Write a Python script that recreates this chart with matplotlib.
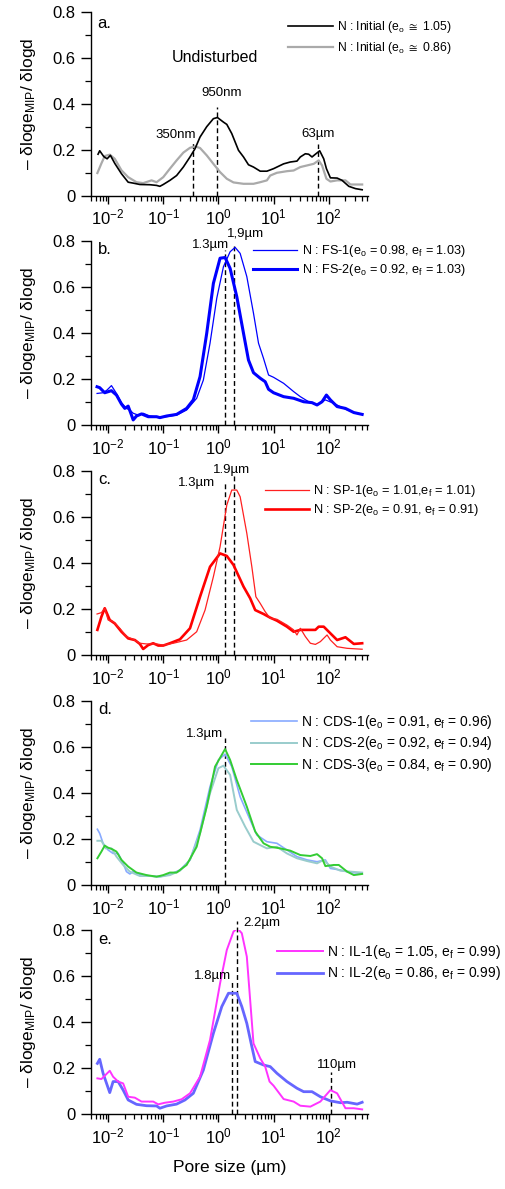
import numpy as np
import matplotlib
matplotlib.use("Agg")
import matplotlib.pyplot as plt
from matplotlib.ticker import LogLocator, MultipleLocator, FuncFormatter

plt.rcParams['font.family'] = ['Liberation Sans', 'DejaVu Sans']
plt.rcParams['mathtext.fontset'] = 'custom'
plt.rcParams['mathtext.rm'] = 'Liberation Sans'
plt.rcParams['mathtext.it'] = 'Liberation Sans:italic'
plt.rcParams['mathtext.bf'] = 'Liberation Sans:bold'
plt.rcParams['mathtext.fallback'] = 'stixsans'

# ---------------- data (log10 of pore size in um, and -dloge/dlogd) ----------------
# panel a
logd_init_105 = [-2.182,-2.152,-2.079,-2.018,-1.958,-1.879,-1.758,-1.636,-1.545,-1.424,-1.242,-1.121,-1.061,-1.000,
                 -0.879,-0.758,-0.636,-0.515,-0.424,-0.333,-0.212,-0.091,-0.018,0.091,0.152,0.242,0.364,0.455,0.545,
                 0.636,0.758,0.879,1.000,1.182,1.303,1.424,1.485,1.576,1.636,1.697,1.758,1.836,1.909,1.958,2.030,
                 2.152,2.242,2.364,2.485,2.606]
val_init_105 = [0.18,0.195,0.17,0.16,0.175,0.14,0.095,0.058,0.054,0.048,0.047,0.044,0.04,0.048,0.066,0.087,0.124,
                0.168,0.204,0.255,0.30,0.335,0.34,0.32,0.31,0.27,0.197,0.168,0.134,0.124,0.106,0.106,0.117,0.138,
                0.146,0.15,0.168,0.182,0.18,0.168,0.18,0.195,0.16,0.117,0.077,0.076,0.066,0.04,0.03,0.025]
logd_init_086 = [-2.194,-2.121,-2.061,-1.970,-1.879,-1.758,-1.636,-1.485,-1.364,-1.212,-1.121,-1.000,-0.879,-0.758,
                 -0.636,-0.515,-0.424,-0.333,-0.212,-0.091,0.030,0.152,0.273,0.455,0.636,0.758,0.879,0.939,1.061,
                 1.242,1.364,1.485,1.606,1.727,1.818,1.879,1.958,2.030,2.152,2.303,2.394,2.606]
val_init_086 = [0.098,0.14,0.172,0.178,0.16,0.11,0.08,0.058,0.054,0.066,0.058,0.08,0.117,0.153,0.187,0.208,0.214,
                0.207,0.175,0.138,0.102,0.073,0.057,0.051,0.051,0.058,0.066,0.087,0.099,0.106,0.109,0.124,0.131,
                0.138,0.153,0.131,0.073,0.061,0.066,0.066,0.048,0.048]
# panel b
logd_fs1 = [-2.200,-2.091,-2.018,-1.939,-1.848,-1.758,-1.667,-1.606,-1.545,-1.455,-1.364,-1.242,-1.061,-0.939,-0.758,
            -0.576,-0.394,-0.273,-0.152,-0.030,0.091,0.212,0.303,0.394,0.515,0.636,0.727,0.818,0.909,1.000,1.182,
            1.364,1.485,1.636,1.788,1.939,2.091,2.273,2.455,2.606]
val_fs1 = [0.137,0.14,0.152,0.171,0.137,0.097,0.072,0.065,0.051,0.043,0.051,0.039,0.032,0.036,0.043,0.065,0.116,
           0.195,0.355,0.55,0.687,0.752,0.771,0.745,0.644,0.485,0.355,0.289,0.217,0.207,0.181,0.145,0.123,0.101,
           0.087,0.109,0.094,0.072,0.054,0.046]
logd_fs2 = [-2.200,-2.152,-2.061,-1.939,-1.848,-1.758,-1.697,-1.636,-1.588,-1.545,-1.485,-1.394,-1.273,-1.121,-1.061,
            -0.939,-0.758,-0.576,-0.455,-0.333,-0.212,-0.091,0.030,0.121,0.212,0.333,0.455,0.545,0.636,0.758,0.848,
            0.909,1.000,1.182,1.364,1.545,1.697,1.788,1.879,1.958,2.030,2.152,2.303,2.455,2.606]
val_fs2 = [0.166,0.162,0.14,0.149,0.13,0.091,0.072,0.082,0.051,0.022,0.039,0.048,0.036,0.036,0.032,0.039,0.046,
           0.072,0.109,0.21,0.398,0.615,0.724,0.727,0.68,0.557,0.398,0.282,0.227,0.203,0.188,0.155,0.14,0.123,
           0.116,0.101,0.097,0.087,0.101,0.13,0.109,0.08,0.072,0.054,0.046]
# panel c
logd_sp1 = [-2.200,-2.121,-2.061,-2.000,-1.909,-1.788,-1.667,-1.545,-1.424,-1.303,-1.121,-1.000,-0.818,-0.576,-0.394,
            -0.242,-0.091,0.030,0.152,0.242,0.333,0.394,0.515,0.606,0.679,0.758,0.848,0.939,1.061,1.242,1.364,
            1.424,1.485,1.576,1.667,1.758,1.848,1.970,2.030,2.152,2.333,2.606]
val_sp1 = [0.178,0.184,0.203,0.152,0.145,0.116,0.08,0.068,0.051,0.048,0.048,0.043,0.051,0.065,0.101,0.195,0.34,
           0.47,0.651,0.716,0.716,0.687,0.528,0.383,0.253,0.224,0.188,0.159,0.155,0.13,0.109,0.087,0.116,0.08,
           0.051,0.046,0.058,0.087,0.065,0.036,0.029,0.025]
logd_sp2 = [-2.194,-2.121,-2.061,-1.970,-1.879,-1.758,-1.636,-1.515,-1.424,-1.364,-1.273,-1.182,-1.091,-1.000,-0.879,
            -0.697,-0.515,-0.333,-0.152,0.030,0.152,0.273,0.455,0.576,0.667,0.818,0.939,1.061,1.242,1.364,1.485,
            1.667,1.758,1.818,1.909,2.030,2.152,2.303,2.455,2.606]
val_sp2 = [0.109,0.166,0.203,0.152,0.137,0.101,0.072,0.065,0.048,0.026,0.043,0.051,0.041,0.041,0.051,0.068,0.116,
           0.253,0.383,0.441,0.43,0.391,0.297,0.246,0.195,0.178,0.162,0.149,0.123,0.101,0.109,0.109,0.109,0.123,
           0.123,0.094,0.065,0.077,0.048,0.051]
# panel d
logd_cds1 = [-2.194,-2.152,-2.091,-2.000,-1.909,-1.818,-1.727,-1.667,-1.606,-1.545,-1.424,-1.242,-1.061,-0.879,-0.697,
             -0.515,-0.333,-0.152,0.000,0.121,0.242,0.394,0.576,0.697,0.879,1.061,1.242,1.424,1.606,1.788,1.939,
             2.030,2.212,2.394,2.606]
val_cds1 = [0.242,0.224,0.181,0.152,0.137,0.137,0.094,0.058,0.048,0.058,0.046,0.039,0.036,0.046,0.065,0.109,0.239,
            0.427,0.543,0.568,0.514,0.383,0.282,0.217,0.188,0.181,0.152,0.123,0.109,0.101,0.109,0.072,0.065,0.054,
            0.051]
logd_cds2 = [-2.194,-2.121,-2.042,-1.939,-1.848,-1.727,-1.606,-1.424,-1.242,-1.061,-0.879,-0.697,-0.515,-0.333,-0.152,
             0.000,0.091,0.212,0.333,0.485,0.636,0.818,0.879,1.061,1.242,1.424,1.606,1.788,1.909,2.030,2.212,
             2.394,2.606]
val_cds2 = [0.192,0.192,0.159,0.159,0.123,0.087,0.058,0.039,0.039,0.036,0.043,0.062,0.109,0.224,0.398,0.507,0.518,
            0.478,0.326,0.253,0.188,0.166,0.159,0.166,0.137,0.116,0.104,0.094,0.109,0.08,0.062,0.058,0.054]
logd_cds3 = [-2.194,-2.121,-2.061,-2.000,-1.921,-1.848,-1.758,-1.636,-1.485,-1.303,-1.121,-1.000,-0.879,-0.758,-0.576,
             -0.394,-0.212,-0.061,0.121,0.212,0.333,0.515,0.667,0.818,0.939,1.121,1.303,1.485,1.667,1.788,1.879,
             1.939,2.091,2.182,2.333,2.455,2.606]
val_cds3 = [0.116,0.145,0.171,0.162,0.155,0.145,0.109,0.08,0.054,0.043,0.036,0.043,0.054,0.054,0.087,0.166,0.34,
            0.514,0.59,0.543,0.456,0.34,0.232,0.181,0.166,0.159,0.149,0.13,0.126,0.134,0.116,0.082,0.087,0.087,
            0.058,0.043,0.048]
# panel e
logd_il1 = [-2.194,-2.121,-1.970,-1.909,-1.818,-1.727,-1.636,-1.515,-1.394,-1.273,-1.182,-1.091,-0.970,-0.818,-0.667,
            -0.515,-0.333,-0.152,0.030,0.152,0.273,0.345,0.424,0.515,0.636,0.758,0.848,0.927,1.000,1.182,1.364,
            1.485,1.667,1.848,2.030,2.152,2.303,2.455,2.606]
val_il1 = [0.155,0.152,0.188,0.162,0.141,0.133,0.075,0.071,0.054,0.054,0.054,0.042,0.049,0.054,0.064,0.09,0.162,
           0.322,0.568,0.713,0.793,0.807,0.786,0.684,0.307,0.242,0.206,0.141,0.123,0.065,0.054,0.036,0.032,0.054,
           0.104,0.09,0.025,0.025,0.02]
logd_il2 = [-2.194,-2.152,-2.091,-1.970,-1.909,-1.818,-1.727,-1.636,-1.485,-1.303,-1.121,-1.061,-0.939,-0.758,-0.606,
            -0.455,-0.273,-0.091,0.061,0.182,0.333,0.424,0.515,0.606,0.667,0.818,0.939,1.061,1.242,1.424,1.545,
            1.697,1.848,2.030,2.212,2.333,2.515,2.606]
val_il2 = [0.22,0.238,0.177,0.093,0.141,0.141,0.104,0.061,0.042,0.036,0.035,0.025,0.035,0.043,0.061,0.09,0.191,
           0.351,0.467,0.525,0.525,0.467,0.394,0.293,0.228,0.213,0.206,0.177,0.141,0.112,0.097,0.097,0.075,0.057,
           0.049,0.051,0.043,0.051]

# marker lines: pore size (um), label text
marks_a = [0.35, 0.95, 63.0]
marks_a_text = ["350nm", "950nm", "63µm"]
marks_b = [1.3, 1.9]
marks_b_text = ["1.3µm", "1,9µm"]
marks_c = [1.3, 1.9]
marks_c_text = ["1.3µm", "1.9µm"]
marks_d = [1.3]
marks_d_text = ["1.3µm"]
marks_e = [1.8, 2.2, 110.0]
marks_e_text = ["1.8µm", "2.2µm", "110µm"]

labels_a = ["N : Initial (e$_\\mathrm{o}$ $\\cong$ 1.05)", "N : Initial (e$_\\mathrm{o}$ $\\cong$ 0.86)"]
labels_b = ["N : FS-1(e$_\\mathrm{o}$ = 0.98, e$_\\mathrm{f}$ = 1.03)", "N : FS-2(e$_\\mathrm{o}$ = 0.92, e$_\\mathrm{f}$ = 1.03)"]
labels_c = ["N : SP-1(e$_\\mathrm{o}$ = 1.01,e$_\\mathrm{f}$ = 1.01)", "N : SP-2(e$_\\mathrm{o}$ = 0.91, e$_\\mathrm{f}$ = 0.91)"]
labels_d = ["N : CDS-1(e$_\\mathrm{o}$ = 0.91, e$_\\mathrm{f}$ = 0.96)", "N : CDS-2(e$_\\mathrm{o}$ = 0.92, e$_\\mathrm{f}$ = 0.94)",
            "N : CDS-3(e$_\\mathrm{o}$ = 0.84, e$_\\mathrm{f}$ = 0.90)"]
labels_e = ["N : IL-1(e$_\\mathrm{o}$ = 1.05, e$_\\mathrm{f}$ = 0.99)", "N : IL-2(e$_\\mathrm{o}$ = 0.86, e$_\\mathrm{f}$ = 0.99)"]

# ---------------- figure ----------------
W, H = 505, 1189
fig = plt.figure(figsize=(W / 100, H / 100), dpi=100)

panel_px = [(12, 195.5), (240.7, 425), (470.7, 655), (700.7, 885), (930, 1114)]
left_px, right_px = 91, 368
axes = []
for (t, b) in panel_px:
    ax = fig.add_axes([left_px / W, 1 - b / H, (right_px - left_px) / W, (b - t) / H])
    axes.append(ax)

def style(ax):
    ax.set_xscale('log')
    ax.set_xlim(0.0049, 515)
    ax.set_ylim(0, 0.8)
    for s in ['top', 'right']:
        ax.spines[s].set_visible(False)
    ax.spines['left'].set_linewidth(1.0)
    ax.spines['bottom'].set_linewidth(1.0)
    ax.xaxis.set_major_locator(LogLocator(base=10, numticks=20))
    ax.xaxis.set_minor_locator(LogLocator(base=10, subs=np.arange(2, 10), numticks=20))
    ax.yaxis.set_major_locator(MultipleLocator(0.2))
    ax.yaxis.set_minor_locator(MultipleLocator(0.1))
    ax.yaxis.set_major_formatter(FuncFormatter(lambda v, p: '0' if abs(v) < 1e-9 else f'{v:.1f}'))
    ax.tick_params(axis='x', which='major', direction='out', length=6, width=1, labelsize=12, pad=3)
    ax.tick_params(axis='x', which='minor', direction='out', length=3.5, width=0.9)
    ax.tick_params(axis='y', which='major', direction='out', length=7, width=1, labelsize=12, pad=4)
    ax.tick_params(axis='y', which='minor', direction='out', length=4, width=0.9)
    ax.set_ylabel('– δloge$_{\\mathrm{MIP}}$/ δlogd', fontsize=12.5)
    ax.yaxis.set_label_coords(-0.19, 0.5)

def dashed(ax, xs, tops):
    for x, t in zip(xs, tops):
        ax.plot([x, x], [0, t], color='black', lw=1.0, ls=(0, (3.5, 2.2)), clip_on=False, zorder=1)

def put_legend(ax, x0, y0, fs, spacing, handle_px=45):
    fpx = fs * 100 / 72
    ax.legend(loc='upper left', bbox_to_anchor=(x0, y0), frameon=False, fontsize=fs,
              handlelength=handle_px / fpx, handletextpad=4.5 / fpx, labelspacing=spacing,
              borderpad=0, borderaxespad=0)

ann_fs = 9.5

# a
ax = axes[0]
style(ax)
ax.plot(10 ** np.array(logd_init_105), val_init_105, color='black', lw=1.2, label=labels_a[0], zorder=3)
ax.plot(10 ** np.array(logd_init_086), val_init_086, color='#aaaaaa', lw=1.6, label=labels_a[1], zorder=2)
dashed(ax, marks_a, [0.23, 0.385, 0.225])
ax.text(10 ** -0.77, 0.262, marks_a_text[0], fontsize=ann_fs, ha='center', va='center')
ax.text(10 ** 0.06, 0.445, marks_a_text[1], fontsize=ann_fs, ha='center', va='center')
ax.text(10 ** 1.80, 0.27, marks_a_text[2], fontsize=ann_fs, ha='center', va='center')
ax.text(10 ** -0.06, 0.60, 'Undisturbed', fontsize=11.5, ha='center', va='center')
ax.text(0.022, 0.94, 'a.', transform=ax.transAxes, fontsize=12, ha='left', va='center')
put_legend(ax, 0.711, 0.962, 8.7, 0.45)

# b
ax = axes[1]
style(ax)
ax.plot(10 ** np.array(logd_fs1), val_fs1, color='#0000ff', lw=0.9, label=labels_b[0], zorder=3)
ax.plot(10 ** np.array(logd_fs2), val_fs2, color='#0000ff', lw=2.2, label=labels_b[1], zorder=2)
dashed(ax, marks_b, [0.76, 0.78])
ax.text(10 ** -0.15, 0.78, marks_b_text[0], fontsize=ann_fs, ha='center', va='center')
ax.text(10 ** 0.485, 0.83, marks_b_text[1], fontsize=ann_fs, ha='center', va='center')
ax.text(0.025, 0.95, 'b.', transform=ax.transAxes, fontsize=12, ha='left', va='center')
put_legend(ax, 0.585, 0.986, 9.1, 0.22, 44)

# c
ax = axes[2]
style(ax)
ax.plot(10 ** np.array(logd_sp1), val_sp1, color='#ff2020', lw=0.9, label=labels_c[0], zorder=3)
ax.plot(10 ** np.array(logd_sp2), val_sp2, color='#ff0000', lw=1.9, label=labels_c[1], zorder=2)
dashed(ax, marks_c, [0.75, 0.78])
ax.text(10 ** -0.394, 0.745, marks_c_text[0], fontsize=ann_fs, ha='center', va='center')
ax.text(10 ** 0.23, 0.805, marks_c_text[1], fontsize=ann_fs, ha='center', va='center')
ax.text(0.025, 0.95, 'c.', transform=ax.transAxes, fontsize=12, ha='left', va='center')
put_legend(ax, 0.628, 0.933, 9.2, 0.23, 44)

# d
ax = axes[3]
style(ax)
ax.plot(10 ** np.array(logd_cds1), val_cds1, color='#88aaff', lw=1.2, label=labels_d[0], zorder=2)
ax.plot(10 ** np.array(logd_cds2), val_cds2, color='#99cccc', lw=1.4, label=labels_d[1], zorder=2)
ax.plot(10 ** np.array(logd_cds3), val_cds3, color='#33cc33', lw=1.4, label=labels_d[2], zorder=3)
dashed(ax, marks_d, [0.637])
ax.text(10 ** -0.26, 0.655, marks_d_text[0], fontsize=ann_fs, ha='center', va='center')
ax.text(0.025, 0.95, 'd.', transform=ax.transAxes, fontsize=12, ha='left', va='center')
put_legend(ax, 0.577, 0.932, 10.0, 0.23, 46)

# e
ax = axes[4]
style(ax)
ax.plot(10 ** np.array(logd_il1), val_il1, color='#ff33ff', lw=1.4, label=labels_e[0], zorder=3)
ax.plot(10 ** np.array(logd_il2), val_il2, color='#6666ff', lw=2.0, label=labels_e[1], zorder=2)
dashed(ax, marks_e, [0.575, 0.84, 0.184])
ax.text(10 ** -0.11, 0.60, marks_e_text[0], fontsize=ann_fs, ha='center', va='center')
ax.text(10 ** 0.79, 0.83, marks_e_text[1], fontsize=ann_fs, ha='center', va='center')
ax.text(10 ** 2.15, 0.215, marks_e_text[2], fontsize=ann_fs, ha='center', va='center')
ax.text(0.025, 0.95, 'e.', transform=ax.transAxes, fontsize=12, ha='left', va='center')
put_legend(ax, 0.671, 0.928, 10.0, 0.23, 46)
ax.set_xlabel('Pore size (µm)', fontsize=12.5, labelpad=10)

fig.savefig('out.png', dpi=100)
